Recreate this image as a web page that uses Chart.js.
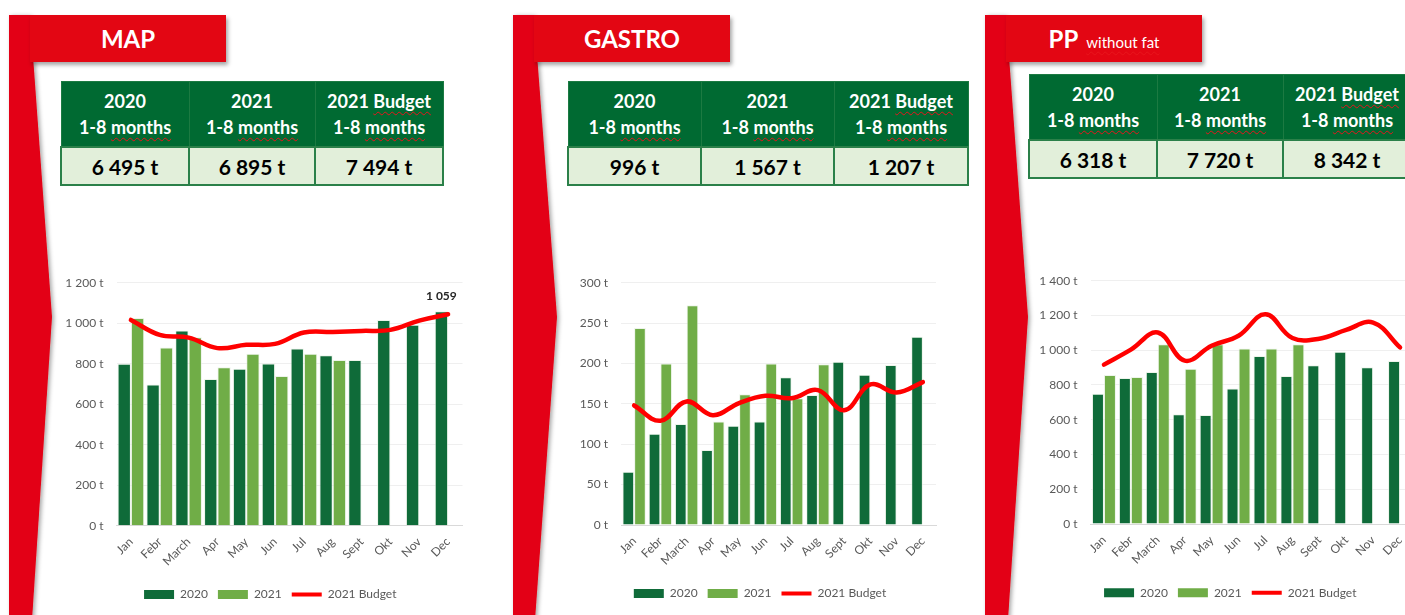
<!DOCTYPE html>
<html><head><meta charset="utf-8">
<script src="https://cdn.jsdelivr.net/npm/chart.js@4.4.1/dist/chart.umd.min.js"></script>
<style>
html,body{margin:0;padding:0;background:#fff;width:1405px;height:615px;overflow:hidden;position:relative;font-family:Lato,'Open Sans',sans-serif}
svg.deco{position:absolute;left:0;top:0}
.hdr{position:absolute;top:15px;height:47px;width:196px;background:#E30613;color:#fff;font-weight:bold;font-size:24px;display:flex;align-items:center;justify-content:center;box-shadow:2px 3px 4px rgba(0,0,0,0.35)}
.hdr small{font-size:15px;font-weight:normal;margin-left:8px;position:relative;top:3px}
.sp{text-decoration:underline wavy #e8141b;text-decoration-thickness:1px;text-underline-offset:3px}
table.kpi{position:absolute;border-collapse:collapse;table-layout:fixed}
table.kpi th{background:#006A32;color:#fff;font-size:18px;font-weight:bold;line-height:26px;height:64px;padding:0;border:1px solid #1c7a42;text-align:center}
table.kpi td{background:#E2EFDA;color:#000;font-size:21px;font-weight:bold;height:36px;padding:0;border:2px solid #2b8049;text-align:center}
canvas{position:absolute}
</style></head>
<body>
<svg class="deco" width="1405" height="615">
  <defs><filter id="sh" x="-20%" y="-5%" width="160%" height="110%"><feDropShadow dx="2" dy="1" stdDeviation="2" flood-color="#000" flood-opacity="0.35"/></filter></defs>
  <polygon points="9,15 30,15 52,317 32,620 9,620" fill="#E30613" filter="url(#sh)"/>
  <polygon points="513,15 534,15 557,317 535,620 513,620" fill="#E30613" filter="url(#sh)"/>
  <polygon points="985,15 1006,15 1028,317 1008,620 985,620" fill="#E30613" filter="url(#sh)"/>
</svg>
<div class="hdr" style="left:30px">MAP</div>
<div class="hdr" style="left:534px">GASTRO</div>
<div class="hdr" style="left:1006px">PP<small><span class="sp">without fat</span></small></div>

<table class="kpi" style="left:60px;top:81px;width:382px">
<colgroup><col style="width:128px"><col style="width:126px"><col style="width:128px"></colgroup>
<tr><th>2020<br>1-8 <span class="sp">months</span></th><th>2021<br>1-8 <span class="sp">months</span></th><th>2021 <span class="sp">Budget</span><br>1-8 <span class="sp">months</span></th></tr>
<tr><td>6 495 t</td><td>6 895 t</td><td>7 494 t</td></tr>
</table>
<table class="kpi" style="left:567px;top:81px;width:400px">
<colgroup><col style="width:133px"><col style="width:133px"><col style="width:134px"></colgroup>
<tr><th>2020<br>1-8 <span class="sp">months</span></th><th>2021<br>1-8 <span class="sp">months</span></th><th>2021 <span class="sp">Budget</span><br>1-8 <span class="sp">months</span></th></tr>
<tr><td>996 t</td><td>1 567 t</td><td>1 207 t</td></tr>
</table>
<table class="kpi" style="left:1028px;top:74px;width:382px">
<colgroup><col style="width:128px"><col style="width:126px"><col style="width:128px"></colgroup>
<tr><th>2020<br>1-8 <span class="sp">months</span></th><th>2021<br>1-8 <span class="sp">months</span></th><th>2021 <span class="sp">Budget</span><br>1-8 <span class="sp">months</span></th></tr>
<tr><td>6 318 t</td><td>7 720 t</td><td>8 342 t</td></tr>
</table>

<canvas id="c1" width="440" height="345" style="left:50px;top:270px"></canvas>
<canvas id="c2" width="400" height="345" style="left:560px;top:270px"></canvas>
<canvas id="c3" width="410" height="355" style="left:1025px;top:260px"></canvas>

<script>
const months = ['Jan','Febr','March','Apr','May','Jun','Jul','Aug','Sept','Okt','Nov','Dec'];
const seriesNames = ['2020','2021','2021 Budget'];

const map2020   = [800, 697, 964, 724, 775, 801, 875, 842, 818, 1016, 992, 1059];
const map2021   = [1026, 880, 931, 782, 849, 739, 849, 818, null, null, null, null];
const mapBudget = [1016, 942, 929, 877, 893, 898, 954, 957, 962, 967, 1013, 1044];

const gastro2020   = [66, 113, 125, 93, 123, 128, 183, 161, 202, 186, 198, 233];
const gastro2021   = [244, 200, 272, 128, 162, 200, 157, 199, null, null, null, null];
const gastroBudget = [148, 129, 153, 136, 151, 160, 157, 167, 142, 174, 164, 177];

const pp2020   = [749, 840, 875, 632, 627, 779, 967, 852, 913, 991, 902, 938];
const pp2021   = [858, 846, 1035, 894, 1035, 1010, 1010, 1035, null, null, null, null];
const ppBudget = [917, 1003, 1102, 940, 1026, 1083, 1207, 1070, 1066, 1117, 1159, 1016];

const darkGreen = '#0F6B39', lightGreen = '#70AD47', red = '#FF0000';
const txtColor = '#595959';

function grp(v){ return String(Math.round(v)).replace(/\B(?=(\d{3})+(?!\d))/g,' '); }
function fmtT(v){ return grp(v) + ' t'; }

const valueLabel = {
  id: 'valueLabel',
  afterDatasetsDraw(chart, args, opts) {
    if (!opts || !opts.show) return;
    const el = chart.getDatasetMeta(opts.datasetIndex).data[opts.index];
    const val = chart.data.datasets[opts.datasetIndex].data[opts.index];
    const ctx = chart.ctx;
    ctx.save();
    ctx.font = 'bold 12px Lato, sans-serif';
    ctx.fillStyle = '#262626';
    ctx.textAlign = 'center';
    ctx.textBaseline = 'middle';
    ctx.fillText(grp(val), el.x, el.y - 15);
    ctx.restore();
  }
};

const legendShift = {
  id: 'legendShift',
  afterLayout(chart, args, opts) {
    const l = chart.legend;
    if (l && opts && opts.dx) { l.left += opts.dx; l.right += opts.dx; }
  }
};

function build(id, d2020, d2021, dBud, o) {
  new Chart(document.getElementById(id), {
    type: 'bar',
    plugins: [valueLabel, legendShift],
    data: {
      labels: months,
      datasets: [
        {label: seriesNames[0], data: d2020, backgroundColor: darkGreen, borderColor: 'rgba(230,240,225,0.7)', borderWidth: 1, order: 1,
         categoryPercentage: o.cat, barPercentage: 1},
        {label: seriesNames[1], data: d2021, backgroundColor: lightGreen, borderColor: 'rgba(230,240,225,0.7)', borderWidth: 1, order: 1,
         categoryPercentage: o.cat, barPercentage: 1},
        {type: 'line', label: seriesNames[2], data: dBud, borderColor: red, backgroundColor: red, borderWidth: 4.5,
         pointRadius: 0, tension: 0.4, order: 0, borderCapStyle: 'round'}
      ]
    },
    options: {
      responsive: false,
      animation: false,
      layout: {padding: {left: 0, right: o.padR, top: o.padT, bottom: o.padB}},
      plugins: {
        tooltip: {enabled: false},
        valueLabel: o.label || {show: false},
        legendShift: {dx: o.legDx},
        legend: {
          position: 'bottom',
          labels: {
            color: txtColor, font: {family: 'Lato', size: 12}, padding: 10,
            usePointStyle: true, pointStyleWidth: 30, boxHeight: 9,
            generateLabels(chart) {
              const items = Chart.defaults.plugins.legend.labels.generateLabels(chart);
              items.sort((a, b) => a.datasetIndex - b.datasetIndex);
              return items.map(it => {
                const ds = chart.data.datasets[it.datasetIndex];
                if (ds.type === 'line') {
                  it.pointStyle = 'line'; it.strokeStyle = ds.borderColor; it.fillStyle = ds.borderColor; it.lineWidth = 4;
                } else {
                  it.pointStyle = 'rect'; it.fillStyle = ds.backgroundColor; it.strokeStyle = ds.backgroundColor; it.lineWidth = 0;
                }
                return it;
              });
            }
          }
        }
      },
      scales: {
        x: {
          grid: {display: false, drawTicks: false},
          border: {display: true, color: '#d9d9d9', width: 1},
          ticks: {color: txtColor, font: {family: 'Lato', size: 12}, maxRotation: 45, minRotation: 45, padding: 9, autoSkip: false},
          afterFit(s) { s.height = o.xH; }
        },
        y: {
          min: 0, max: o.max,
          grid: {color: '#efefef', drawTicks: true, tickLength: 10, tickColor: 'rgba(0,0,0,0)'},
          border: {display: false},
          ticks: {stepSize: o.step, color: txtColor, font: {family: 'Lato', size: 12}, padding: 3, callback: v => fmtT(v)},
          afterFit(s) { s.width = o.yW; }
        }
      }
    }
  });
}

build('c1', map2020, map2021, mapBudget,
  {cat: 0.925, max: 1200, step: 200, yW: 66.5, padR: 27.5, padT: 12.7, padB: 4.5, xH: 52.8, legDx: 14,
   label: {show: true, datasetIndex: 0, index: 11}});
build('c2', gastro2020, gastro2021, gastroBudget,
  {cat: 0.89, max: 300, step: 50, yW: 61, padR: 24, padT: 12.7, padB: 5.5, xH: 52.5, legDx: 12});
build('c3', pp2020, pp2021, ppBudget,
  {cat: 0.89, max: 1400, step: 200, yW: 65.5, padR: 21.5, padT: 20.7, padB: 6.2, xH: 52.8, legDx: 11});
</script>
</body></html>
